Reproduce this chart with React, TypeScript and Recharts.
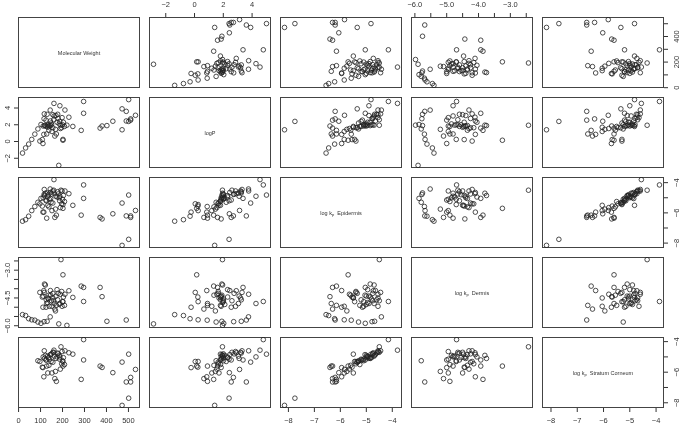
import { Scatter, ScatterChart, XAxis, YAxis } from "recharts";
import { type JSX } from "react";

// one entry per compound, null = value not reported
const molecularWeight = [
  18, 32, 46, 60, 74, 88, 102, 116, 130, 144, 161,
  183, 193, 202, 202, 220, 229, 247, 211, 188,
  285, 296, 296, 371, 380, 402, 429, 471, 471, 490, 490, 501, 501, 510, 510, 532,
  97, 108, 111, 115, 128, 165, 172, 112, 118, 122, 126, 132, 136, 140, 146, 150,
  156, 156, 162, 170, 178, 175, 117, 196, 200, 204, 209, 185, 190, 168, 152, 138,
  145, 160, 180, 125, 133, 198, 148, 187,
];
const logP = [
  -1.38, -0.77, -0.31, 0.25, 0.88, 1.5, 2.03, 2.72, 3.25, 3.75, 4.55,
  -2.85, 1.94, 0.15, 0.25, 1.95, 2.9, 1.8, 3.76, 4.27,
  1.33, 4.78, 3.37, 1.6, 1.85, 1.9, 2.42, 1.4, 3.9, 3.6, 2.45, 2.4, 5.0, 2.7, 2.55, 3.13,
  0.05, 0.23, -0.24, 0.85, 0.9, 0.65, 0.9, 1.85, 1.9, 1.95, 1.8, 1.95, 2.0, 1.85, 1.9, 2.0,
  1.64, 3.2, 3.05, 3.1, 3.25, 2.3, 3.3, 1.65, 2.0, 2.3, 1.8, 2.1, 1.55, 1.45, 1.2, 1.35,
  2.45, 2.6, 2.75, 2.55, 1.7, 2.85, 2.2, 2.4,
];
const logKpEpidermis = [
  -6.55, -6.45, -6.22, -5.85, -5.58, -5.3, -5.04, -4.78, -4.68, -4.42, -3.8,
  null, -4.5, -5.7, -5.45, null, -4.73, -5.5, -4.55, -4.9,
  -6.15, -4.15, -5.04, -6.3, -6.4, null, -6.06, -8.15, -5.35, -6.2, null, -7.75, -4.82, -6.2, -6.3, -5.84,
  -5.4, -5.55, -5.95, -5.95, -6.35, -6.3, -6.15, -5.0, -4.85, -4.7, -5.2, -4.95, -4.8, -5.1, -5.05, -4.75,
  -5.35, -4.55, -4.7, -4.9, -4.6, -4.95, -4.45, -5.4, -5.1, -4.85, -5.25, -5.0, -5.65, -5.75, -5.85, -5.6,
  -4.65, -4.5, -4.75, -5.15, -5.5, -4.55, -5.3, -5.2,
];
const logKpDermis = [
  -5.4, -5.45, -5.62, -5.68, -5.7, -5.8, -5.87, -5.78, -5.76, -5.52, null,
  -5.9, -2.43, -3.25, -4.7, -5.98, -4.11, -4.47, -4.3, -4.8,
  -3.86, -4.69, -3.93, -3.93, -4.43, -5.76, null, null, null, -5.69, null, null, null, null, null, null,
  -4.2, -4.45, -5.0, -4.1, -4.8, -5.1, -4.9, -4.4, -3.75, -3.8, -4.6, -4.75, -4.55, -4.95, -4.35, -4.65,
  -4.25, -4.5, -4.8, -4.4, -4.6, -4.05, -4.2, -4.15, -4.7, -4.45, -4.9, -4.85, -4.3, -5.2, -4.95, -4.35,
  -4.1, -4.65, -4.25, -5.0, -4.5, -4.95, null, null,
];
const logKpStratumCorneum = [
  null, null, null, null, null, -5.25, null, null, null, null, -4.56,
  null, -4.34, -5.6, -5.3, null, -4.73, -4.82, -4.6, -5.0,
  -6.47, -3.87, -5.2, -5.6, -5.69, null, -6.03, -8.17, -5.34, -6.64, null, -7.7, -4.82, -6.34, -6.64, -5.82,
  -5.3, -5.67, -5.7, -6.3, -5.6, -6.42, -6.6, -5.0, -5.1, -4.9, -5.2, -4.95, -5.05, -5.15, -4.85, -4.8,
  -5.35, -4.7, -4.95, -5.1, -4.75, -5.0, -4.6, -5.45, -5.25, -5.05, -5.5, -4.9, -5.8, -5.95, -6.05, -5.55,
  -4.85, -4.7, -4.8, -5.2, -6.05, -4.65, -5.3, -5.15,
];

const weightTicks = [0, 100, 200, 300, 400, 500];
const logPTicks = [-2, 0, 2, 4];
const kpTicks = [-8, -7, -6, -5, -4];
const dermisTicks = [-6, -5.5, -5, -4.5, -4, -3.5, -3, -2.5];

const weightSideLabels = [0, 200, 400];
const kpSideLabels = [-8, -6, -4];
const dermisTopLabels = [-6, -5, -4, -3];
const dermisSideLabels = [-6, -4.5, -3];

interface IVariable {
  name: string;
  sub?: string;
  rest?: string;
  values: (number | null)[];
  ticks: number[];
  across: number[];
  side: number[];
  digits: number;
}

const variables: IVariable[] = [
  { name: "Molecular Weight", values: molecularWeight, ticks: weightTicks, across: weightTicks, side: weightSideLabels, digits: 0 },
  { name: "logP", values: logP, ticks: logPTicks, across: logPTicks, side: logPTicks, digits: 0 },
  { name: "log k", sub: "p", rest: "  Epidermis", values: logKpEpidermis, ticks: kpTicks, across: kpTicks, side: kpSideLabels, digits: 0 },
  { name: "log k", sub: "p", rest: "  Dermis", values: logKpDermis, ticks: dermisTicks, across: dermisTopLabels, side: dermisSideLabels, digits: 1 },
  { name: "log k", sub: "p", rest: "  Stratum Corneum", values: logKpStratumCorneum, ticks: kpTicks, across: kpTicks, side: kpSideLabels, digits: 0 },
];

const BOX_LEFT = [18, 149, 280, 411, 542];
const BOX_TOP = [17, 97, 177, 257, 337];
const BOX_W = 122;
const BOX_H = 71;
const M = 28;
const FONT = "'Liberation Sans', Arial, sans-serif";

const range = (vals: (number | null)[]): [number, number] => {
  const v = vals.filter((n): n is number => n !== null);
  const lo = Math.min(...v);
  const hi = Math.max(...v);
  const r = hi - lo;
  return [lo - 0.04 * r, hi + 0.04 * r];
};

const fmt = (v: number, digits: number) =>
  (v < 0 ? "\u2212" : "") + Math.abs(v).toFixed(digits);

const renderTick = (side: string, shown: number[], digits: number) => (props: any) => {
  const { x, y, payload } = props;
  const v = payload.value;
  if (!shown.includes(v)) return <g />;
  const label = fmt(v, digits);
  const common = { fontSize: 7.5, fill: "#333", fontFamily: FONT, textAnchor: "middle" as const, dominantBaseline: "central" as const };
  if (side === "bottom") return <text x={x} y={y + 6.7} {...common}>{label}</text>;
  if (side === "top") return <text x={x} y={y - 7} {...common}>{label}</text>;
  const cx = side === "left" ? x - 4 : x + 7;
  return (
    <text x={cx} y={y} transform={`rotate(-90 ${cx} ${y})`} {...common}>
      {label}
    </text>
  );
};

const ring = (props: any) => (
  <circle cx={props.cx} cy={props.cy} r={2.3} fill="none" stroke="#222" strokeWidth={0.8} />
);

const Panel = ({ row, col }: { row: number; col: number }): JSX.Element => {
  const xv = variables[col];
  const yv = variables[row];
  const hasTop = row === 0 && col % 2 === 1;
  const hasBottom = row === 4 && col % 2 === 0;
  const hasLeft = col === 0 && row % 2 === 1;
  const hasRight = col === 4 && row % 2 === 0;
  const data =
    row === col
      ? []
      : xv.values
          .map((x, k) => ({ x, y: yv.values[k] }))
          .filter((p) => p.x !== null && p.y !== null);
  const xDomain = range(xv.values);
  const yDomain = range(yv.values);

  return (
    <div
      style={{
        position: "absolute",
        left: BOX_LEFT[col] - M,
        top: BOX_TOP[row] - M,
        willChange: "transform",
      }}
    >
      <div
        style={{
          position: "absolute",
          left: M,
          top: M,
          width: BOX_W,
          height: BOX_H,
          border: "1px solid #444",
          boxSizing: "border-box",
        }}
      />
      <ScatterChart
        width={BOX_W + 2 * M}
        height={BOX_H + 2 * M}
        margin={{
          top: hasTop ? 0 : M,
          bottom: hasBottom ? 0 : M,
          left: hasLeft ? 0 : M,
          right: hasRight ? 0 : M,
        }}
      >
        <XAxis
          type="number"
          dataKey="x"
          domain={xDomain}
          allowDataOverflow
          ticks={xv.ticks}
          interval={0}
          hide={!hasTop && !hasBottom}
          orientation={hasTop ? "top" : "bottom"}
          height={M}
          axisLine={false}
          tickSize={4}
          tickLine={{ stroke: "#333" }}
          tick={renderTick(hasTop ? "top" : "bottom", xv.across, xv.digits)}
        />
        <YAxis
          type="number"
          dataKey="y"
          domain={yDomain}
          allowDataOverflow
          ticks={yv.ticks}
          interval={0}
          hide={!hasLeft && !hasRight}
          orientation={hasLeft ? "left" : "right"}
          width={M}
          axisLine={false}
          tickSize={4}
          tickLine={{ stroke: "#333" }}
          tick={renderTick(hasLeft ? "left" : "right", yv.side, yv.digits)}
        />
        <Scatter data={data} shape={ring} isAnimationActive={false} />
      </ScatterChart>
      {row === col && (
        <svg
          width={BOX_W}
          height={BOX_H}
          style={{ position: "absolute", left: M, top: M }}
        >
          <text
            x={BOX_W / 2}
            y={BOX_H / 2}
            textAnchor="middle"
            dominantBaseline="central"
            fontSize={5.5}
            fill="#333"
            fontFamily={FONT}
          >
            {xv.name}
            {xv.sub && (
              <tspan fontSize={4} dy={1.3}>
                {xv.sub}
              </tspan>
            )}
            {xv.rest && (
              <tspan dy={-1.3} style={{ whiteSpace: "pre" }}>
                {xv.rest}
              </tspan>
            )}
          </text>
        </svg>
      )}
    </div>
  );
};

const App = (): JSX.Element => (
  <div
    style={{
      position: "absolute",
      left: 0,
      top: 0,
      width: 685,
      height: 429,
      background: "#fff",
      overflow: "hidden",
    }}
  >
    {variables.map((_, row) =>
      variables.map((__, col) => <Panel key={`${row}-${col}`} row={row} col={col} />)
    )}
  </div>
);

export default App;
